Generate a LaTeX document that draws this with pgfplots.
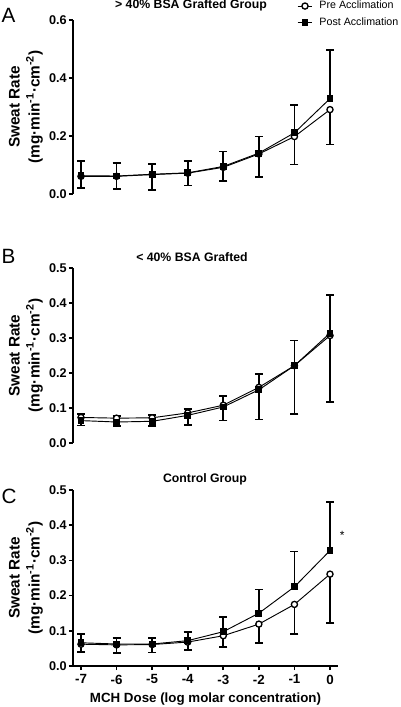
\documentclass[border=0pt]{standalone}
\usepackage{pgfplots}
\usepackage{pgfplotstable}
\pgfplotsset{compat=1.18}
\usepackage{fontspec}
\setmainfont{Liberation Sans}

\pgfplotstableread{
x pre preerr post posterr
-7 0.061 0.040 0.063 0.050
-6 0.061 0.044 0.062 0.045
-5 0.067 0.053 0.068 0.036
-4 0.072 0.043 0.073 0.042
-3 0.092 0.046 0.095 0.052
-2 0.138 0.080 0.141 0.057
-1 0.198 0.096 0.211 0.097
0 0.291 0.120 0.329 0.167
}\dataA

\pgfplotstableread{
x pre preerr post posterr
-7 0.073 0.023 0.064 0.019
-6 0.071 0.023 0.060 0.018
-5 0.072 0.024 0.062 0.019
-4 0.086 0.034 0.079 0.019
-3 0.108 0.044 0.103 0.031
-2 0.159 0.092 0.152 0.045
-1 0.221 0.138 0.221 0.072
0 0.307 0.190 0.314 0.108
}\dataB

\pgfplotstableread{
x pre preerr post posterr
-7 0.062 0.022 0.066 0.025
-6 0.060 0.024 0.0625 0.018
-5 0.061 0.023 0.0625 0.018
-4 0.068 0.023 0.072 0.025
-3 0.086 0.032 0.0975 0.0425
-2 0.119 0.053 0.150 0.067
-1 0.175 0.084 0.225 0.100
0 0.261 0.139 0.328 0.138
}\dataC

\newcommand{\srlabel}{\begin{tabular}{@{}c@{}}Sweat Rate\\[0pt](mg·min\textsuperscript{-1}·cm\textsuperscript{-2})\end{tabular}}

\pgfplotsset{
  panel/.style={
    scale only axis, width=198.75pt, anchor=south west,
    xmin=-7.225, xmax=0.225, ymin=0, clip=false,
    xtick={-7,-6,-5,-4,-3,-2,-1,0},
    xticklabels={-7,-6,-5,-4,-3,-2,-1,0},
    axis line style={line width=1.2pt},
    tick style={line width=1.2pt, black},
    tick align=outside, major tick length=3pt,
    yticklabel style={font=\fontsize{9.5}{11}\selectfont\bfseries, inner xsep=1.5pt},
    xticklabel style={font=\fontsize{10}{12}\selectfont\bfseries},
    /pgf/number format/assume math mode=true,
    yticklabel style={/pgf/number format/fixed, /pgf/number format/fixed zerofill, /pgf/number format/precision=1},
    ylabel={\srlabel},
    ylabel style={font=\fontsize{11.5}{15}\selectfont\bfseries, inner sep=1pt},
  },
  prestyle/.style={black, line width=0.7pt, mark=*, mark size=2.3pt,
    mark options={fill=white, line width=1pt},
    error bars/.cd, y dir=minus, y explicit,
    error bar style={line width=1.3pt},
    error mark options={rotate=90, line width=1.3pt, mark size=3pt, black}},
  poststyle/.style={black, line width=0.7pt, mark=square*, mark size=2.2pt,
    mark options={fill=black},
    error bars/.cd, y dir=plus, y explicit,
    error bar style={line width=1.3pt},
    error mark options={rotate=90, line width=1.3pt, mark size=3pt, black}},
}

\begin{document}
\begin{tikzpicture}
\path[use as bounding box] (0,0) rectangle (300pt,-530.25pt);

% Panel A
\begin{axis}[panel, at={(54.75pt,-145.5pt)}, height=130.5pt, ymax=0.6,
  ytick={0,0.2,0.4,0.6}, hide x axis, axis y line*=left,
  legend style={at={(0.845,1.125)}, anchor=north west, draw=none, fill=none,
    font=\fontsize{8}{9.5}\selectfont, inner sep=0pt, row sep=1pt,
    cells={anchor=west}, nodes={inner xsep=5pt}},
  legend image code/.code={\draw[mark repeat=2,mark phase=2,#1] plot coordinates {(0pt,0pt) (5.5pt,0pt) (11pt,0pt)};},
]
\addplot[prestyle] table[x=x, y=pre, y error=preerr] {\dataA};
\addlegendentry{Pre Acclimation}
\addplot[poststyle] table[x=x, y=post, y error=posterr] {\dataA};
\addlegendentry{Post Acclimation}
\end{axis}

% Panel B
\begin{axis}[panel, at={(54.75pt,-332.25pt)}, height=131.25pt, ymax=0.5,
  ytick={0,0.1,0.2,0.3,0.4,0.5}, hide x axis, axis y line*=left]
\addplot[prestyle] table[x=x, y=pre, y error=preerr] {\dataB};
\addplot[poststyle] table[x=x, y=post, y error=posterr] {\dataB};
\end{axis}

% Panel C
\begin{axis}[panel, at={(54.75pt,-499.5pt)}, height=132pt, ymax=0.5,
  ytick={0,0.1,0.2,0.3,0.4,0.5}, axis lines*=left,
  xlabel={MCH Dose (log molar concentration)},
  xlabel style={font=\fontsize{10}{12}\selectfont\bfseries}]
\addplot[prestyle] table[x=x, y=pre, y error=preerr] {\dataC};
\addplot[poststyle] table[x=x, y=post, y error=posterr] {\dataC};
\node[font=\fontsize{9}{10}\selectfont] at (axis cs:0.34,0.37) {*};
\end{axis}

% titles and panel letters
\node[font=\fontsize{9.2}{10}\selectfont\bfseries, anchor=base] at (143.25pt,-6.3pt) {> 40\% BSA Grafted Group};
\node[font=\fontsize{9.2}{10}\selectfont\bfseries, anchor=base] at (144pt,-195.75pt) {< 40\% BSA Grafted};
\node[font=\fontsize{9.2}{10}\selectfont\bfseries, anchor=base] at (153.75pt,-361.5pt) {Control Group};
\node[font=\fontsize{15.5}{16}\selectfont, anchor=base west, inner sep=0pt] at (1pt,-16.5pt) {A};
\node[font=\fontsize{15.5}{16}\selectfont, anchor=base west, inner sep=0pt] at (1pt,-197.25pt) {B};
\node[font=\fontsize{15.5}{16}\selectfont, anchor=base west, inner sep=0pt] at (1pt,-377.25pt) {C};
\end{tikzpicture}
\end{document}
